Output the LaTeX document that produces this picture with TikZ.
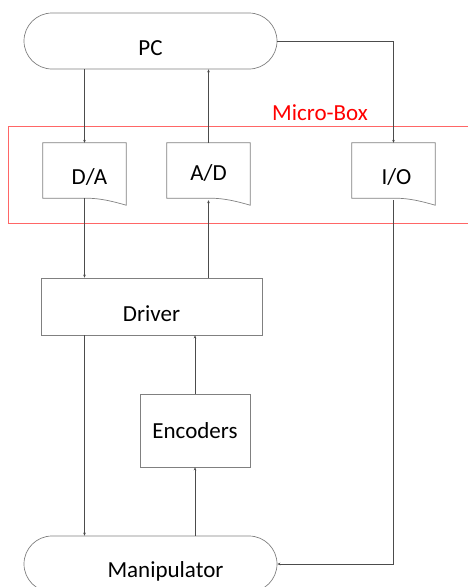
\documentclass[tikz,border=0pt]{standalone}
\usepackage{fontspec}
\setmainfont{Carlito}
\usetikzlibrary{arrows.meta,shapes.misc}

% document shape: flat top, sloping curved foot on the right
\newcommand\docfoot[1]{%
  \draw[boxline] (#1.south west) -- (#1.north west) -- (#1.north east)
    -- ([yshift=-7pt]#1.south east)
    .. controls ([xshift=-14pt,yshift=-3pt]#1.south east) and ([xshift=-26pt]#1.south east)
    .. ([xshift=-40pt]#1.south east) -- cycle;}

\begin{document}
\begin{tikzpicture}[x=1pt,y=-1pt,
    font=\fontsize{23}{27}\selectfont,
    boxline/.style={draw=black!50,line width=0.7pt},
    conn/.style={draw=black!70,line width=0.7pt,-{Stealth[length=3pt,width=2.6pt]}},
    lowtext/.style={text height=28pt,text depth=0pt},
    term/.style={rounded rectangle,boxline,minimum width=253pt,minimum height=56pt,inner sep=0pt,lowtext},
    plainbox/.style={rectangle,boxline,inner sep=0pt},
    docbox/.style={rectangle,inner sep=0pt,minimum width=83pt,minimum height=55pt}]
    \useasboundingbox (0,0) rectangle (468,587);
    % micro-box frame
    \draw[draw=red!60,line width=0.7pt] (8,126) rectangle (480,223);
    \node[text=red] (mbox) at (320,113) {Micro-Box};
    % blocks
    \node[term] (pc) at (150.5,41) {PC};
    \node[docbox,lowtext] (da) at (84.5,170.5) {\hspace*{10pt}D/A};
    \node[docbox,text height=20pt,text depth=0pt] (ad) at (208.5,170.5) {A/D};
    \node[docbox,lowtext] (io) at (393.5,170.5) {\hspace*{6pt}I/O};
    \docfoot{da}
    \docfoot{ad}
    \docfoot{io}
    \node[plainbox,text height=30pt,text depth=0pt,minimum width=221pt,minimum height=57pt] (drv) at (151.5,306.5) {Driver};
    \node[plainbox,minimum width=110pt,minimum height=73pt] (enc) at (195,430.5) {Encoders};
    \node[term,text height=26pt] (man) at (150.5,564) {\hspace*{30pt}Manipulator};
    % signal lines
    \draw[conn] (pc.south -| da.north) -- (da.north);
    \draw[conn] (ad.north) -- (ad.north |- pc.south);
    \draw[conn] (pc.east) -| (io.north);
    \draw[conn] (da.south) -- (da.south |- drv.north);
    \draw[conn] (drv.north -| ad.south) -- ([yshift=-2pt]ad.south);
    \draw[conn] (drv.south -| da.south) -- (man.north -| da.south);
    \draw[conn] (enc.north) -- (enc.north |- drv.south);
    \draw[conn] (man.north -| enc.south) -- (enc.south);
    \draw[conn] ([yshift=-2pt]io.south) |- (man.east);
\end{tikzpicture}
\end{document}
